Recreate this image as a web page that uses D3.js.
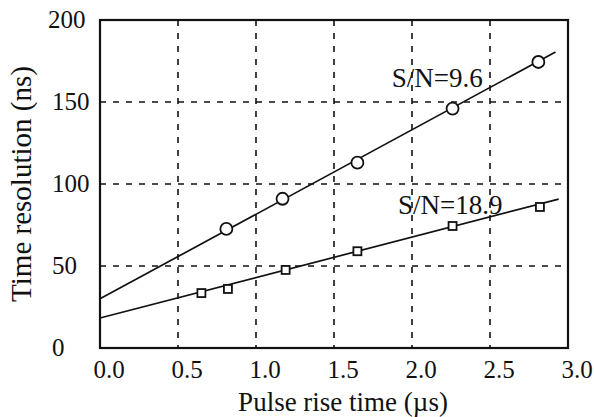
<!DOCTYPE html>
<html>
<head>
<meta charset="utf-8">
<script src="https://cdn.jsdelivr.net/npm/d3@7"></script>
<style>
  body { margin: 0; background: #fff; }
  svg text { font-family: "Times New Roman", Times, "Liberation Serif", serif; fill: #111; }
</style>
</head>
<body>
<script>
// measured points (rise time in us, resolution in ns)
const riseSN96 = [0.81, 1.17, 1.65, 2.26, 2.81];
const resSN96  = [72.6, 91, 113, 146, 174.4];
const riseSN189 = [0.65, 0.82, 1.19, 1.65, 2.26, 2.82];
const resSN189  = [33.5, 36, 47.6, 59, 74.4, 86];

// fitted lines (endpoints as drawn)
const fitX96 = [0, 2.92],  fitY96 = [30, 180.5];
const fitX189 = [0, 2.94], fitY189 = [18.3, 90.8];

const xTicks = [0, 0.5, 1.0, 1.5, 2.0, 2.5, 3.0];
const yTicks = [0, 50, 100, 150, 200];
const labels = [
  {text: "S/N=9.6",  x: 1.87, y: 159},
  {text: "S/N=18.9", x: 1.91, y: 82}
];

const W = 594, H = 417;
const plot = {left: 100, right: 568, top: 20, bottom: 348};

const svg = d3.select("body").append("svg")
    .attr("width", W).attr("height", H);

const x = d3.scaleLinear().domain([0, 3]).range([plot.left, plot.right]);
const y = d3.scaleLinear().domain([0, 200]).range([plot.bottom, plot.top]);

// dashed grid
svg.append("g").selectAll("line")
  .data(xTicks.slice(1, -1))
  .join("line")
    .attr("x1", d => x(d)).attr("x2", d => x(d))
    .attr("y1", plot.top).attr("y2", plot.bottom)
    .attr("stroke", "#111").attr("stroke-width", 1.6)
    .attr("stroke-dasharray", "6,7");

svg.append("g").selectAll("line")
  .data(yTicks.slice(1, -1))
  .join("line")
    .attr("x1", plot.left).attr("x2", plot.right)
    .attr("y1", d => y(d)).attr("y2", d => y(d))
    .attr("stroke", "#111").attr("stroke-width", 1.6)
    .attr("stroke-dasharray", "6,7");

// frame
svg.append("rect")
  .attr("x", plot.left).attr("y", plot.top)
  .attr("width", plot.right - plot.left).attr("height", plot.bottom - plot.top)
  .attr("fill", "none").attr("stroke", "#111").attr("stroke-width", 2.2);

// tick labels
svg.append("g").selectAll("text")
  .data(xTicks)
  .join("text")
    .attr("x", d => x(d) + 9).attr("y", 378)
    .attr("text-anchor", "middle")
    .attr("font-size", 25)
    .text(d => d3.format(".1f")(d));

svg.append("g").selectAll("text")
  .data(yTicks)
  .join("text")
    .attr("x", d => d == 200 ? 48 : 52).attr("y", d => y(d) + 8)
    .attr("font-size", 25)
    .text(d => d);

// axis titles
svg.append("text")
  .attr("x", 343).attr("y", 411)
  .attr("text-anchor", "middle")
  .attr("font-size", 27)
  .text("Pulse rise time (\u00b5s)");

svg.append("text")
  .attr("transform", "translate(31,184) rotate(-90)")
  .attr("text-anchor", "middle")
  .attr("font-size", 29)
  .text("Time resolution (ns)");

// fit lines
const line = d3.line().x(d => x(d[0])).y(d => y(d[1]));
[[fitX96, fitY96], [fitX189, fitY189]].forEach(([fx, fy]) => {
  svg.append("path")
    .datum(d3.zip(fx, fy))
    .attr("d", line)
    .attr("fill", "none").attr("stroke", "#111").attr("stroke-width", 1.7);
});

// markers
svg.append("g").selectAll("circle")
  .data(d3.zip(riseSN96, resSN96))
  .join("circle")
    .attr("cx", d => x(d[0])).attr("cy", d => y(d[1]))
    .attr("r", 6)
    .attr("fill", "#fff").attr("stroke", "#111").attr("stroke-width", 1.8);

svg.append("g").selectAll("rect")
  .data(d3.zip(riseSN189, resSN189))
  .join("rect")
    .attr("x", d => x(d[0]) - 4).attr("y", d => y(d[1]) - 4)
    .attr("width", 8).attr("height", 8)
    .attr("fill", "#fff").attr("stroke", "#111").attr("stroke-width", 1.8);

// series labels
svg.append("g").selectAll("text")
  .data(labels)
  .join("text")
    .attr("x", d => x(d.x)).attr("y", d => y(d.y))
    .attr("font-size", 27)
    .text(d => d.text);
</script>
</body>
</html>
